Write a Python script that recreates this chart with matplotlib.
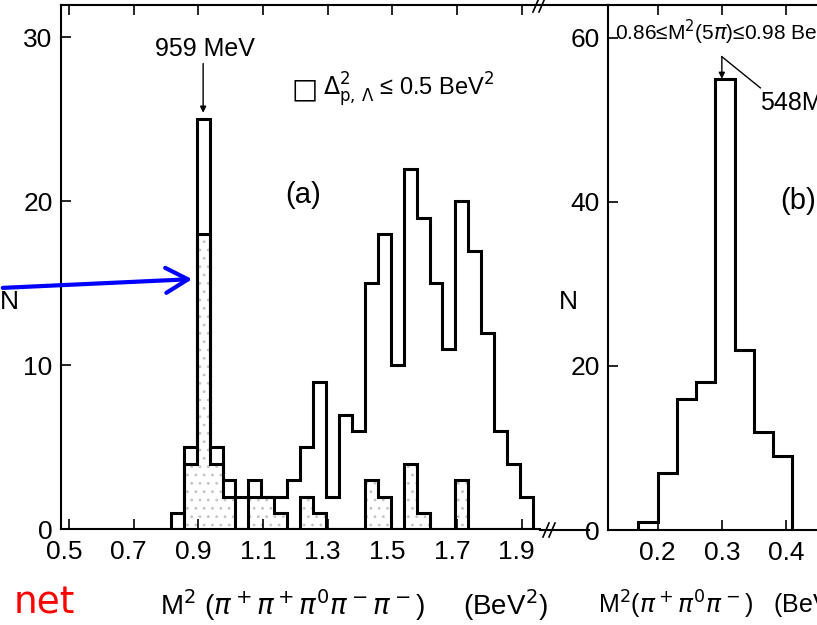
import matplotlib
matplotlib.use('Agg')
import matplotlib.pyplot as plt
import matplotlib.transforms as mtransforms
from matplotlib.lines import Line2D
from matplotlib.patches import FancyArrowPatch

W, H = 817, 625

# panel (a): M^2(pi+ pi+ pi0 pi- pi-), all events and the Delta^2 cut
edges_a = [0.815, 0.855, 0.895, 0.935, 0.975, 1.015, 1.055, 1.095, 1.135, 1.175,
           1.215, 1.255, 1.295, 1.335, 1.375, 1.415, 1.455, 1.495, 1.535, 1.575,
           1.615, 1.655, 1.695, 1.735, 1.775, 1.815, 1.855, 1.895, 1.935]
total_a = [1, 5, 25, 5, 3, 2, 3, 2, 2, 3, 5, 9, 2, 7, 6, 15, 18, 10, 22, 19,
           15, 11, 20, 17, 12, 6, 4, 2]
cut_a = [0, 4, 18, 4, 2, 0, 2, 2, 1, 0, 2, 1, 0, 0, 0, 3, 2, 0, 4, 1,
         0, 0, 3, 0, 0, 0, 0, 0]
xticks_a = [0.5, 0.7, 0.9, 1.1, 1.3, 1.5, 1.7, 1.9]
yticks_a = [0, 10, 20, 30]

# panel (b): M^2(pi+ pi0 pi-) for events in the 959 MeV band
edges_b = [0.17, 0.20, 0.23, 0.26, 0.29, 0.32, 0.35, 0.38, 0.41]
counts_b = [1, 7, 16, 18, 55, 22, 12, 9]
xticks_b = [0.2, 0.3, 0.4]
yticks_b = [0, 20, 40, 60]

plt.rcParams['font.family'] = ['Liberation Sans', 'DejaVu Sans']
plt.rcParams['mathtext.fontset'] = 'dejavusans'
plt.rcParams['hatch.linewidth'] = 0.8


def px(x, y):
    return x / W, 1 - y / H


fig = plt.figure(figsize=(W / 100, H / 100), dpi=100)

# axes in pixel placement
ax_a = fig.add_axes([61 / W, 1 - 529.3 / H, 479 / W, 524.3 / H])
ax_b = fig.add_axes([608 / W, 1 - 530 / H, 392 / W, 525 / H])

for ax in (ax_a, ax_b):
    ax.spines['right'].set_visible(False)
    for s in ('left', 'top', 'bottom'):
        ax.spines[s].set_linewidth(1.5)
    ax.tick_params(direction='in', length=7, width=1.2, top=True,
                   labelsize=19, pad=6)
    ax.tick_params(axis='x', pad=8)

# (a) histograms
ax_a.stairs(cut_a, edges_a, fill=True, facecolor='white', edgecolor='#c4c4c4',
            hatch='..', linewidth=0)
ax_a.stairs(cut_a, edges_a, color='black', linewidth=2.2)
ax_a.stairs(total_a, edges_a, color='black', linewidth=2.2)
ax_a.set_xlim(0.4755, 1.9566)
ax_a.set_ylim(0, 31.97)
ax_a.set_xticks(xticks_a)
ax_a.set_xticklabels([f'{t:.1f}' for t in xticks_a])
ax_a.set_yticks(yticks_a)
# the lettered tick labels sit a little left of their ticks in the scan
shift = mtransforms.ScaledTranslation(-5 / 100, 0, fig.dpi_scale_trans)
for lbl in ax_a.get_xticklabels():
    lbl.set_transform(lbl.get_transform() + shift)

ax_a.annotate('', xy=(0.915, 25.4), xytext=(0.915, 28.4),
              arrowprops=dict(arrowstyle='-|>', color='black', lw=1,
                              mutation_scale=9, shrinkA=0, shrinkB=0))
ax_a.text(0.921, 29.3, '959 MeV', ha='center', va='center', fontsize=18)
ax_a.text(1.1897, 26.8, '\u25a1', ha='left', va='center', fontsize=20,
          family=['DejaVu Sans'])
ax_a.text(1.2866, 26.8, '$\\Delta^{2}_{\\mathrm{p},\\,\\Lambda}$ \u2264 0.5 BeV$^2$',
          ha='left', va='center', fontsize=17)
ax_a.text(1.224, 20.4, '(a)', ha='center', va='center', fontsize=21)

# (b) histogram
ax_b.stairs(counts_b, edges_b, color='black', linewidth=2.2)
ax_b.set_xlim(0.1225, 0.7336)
ax_b.set_ylim(0, 64.0)
ax_b.set_xticks(xticks_b)
ax_b.set_xticklabels([f'{t:.1f}' for t in xticks_b])
ax_b.set_yticks(yticks_b)

ax_b.annotate('', xy=(0.3, 55), xytext=(0.3, 57.7),
              arrowprops=dict(arrowstyle='-|>', color='black', lw=1,
                              mutation_scale=9, shrinkA=0, shrinkB=0))
ax_b.plot([0.3, 0.36], [57.7, 53.9], color='black', lw=1)
ax_b.text(0.359, 52.1, '548MeV', ha='left', va='center', fontsize=18)
ax_b.text(0.1334, 60.6, '0.86\u2264M$^2$(5$\\pi$)\u22640.98 BeV$^2$',
          ha='left', va='center', fontsize=15)
ax_b.text(0.3907, 40.1, '(b)', ha='left', va='center', fontsize=21)

# axis titles written as figure text
fig.text(*px(9, 302), 'N', ha='center', va='center', fontsize=19)
fig.text(*px(568, 302), 'N', ha='center', va='center', fontsize=19)
fig.text(*px(160, 605),
         'M$^2$ ($\\pi^+\\pi^+\\pi^0\\pi^-\\pi^-$)     (BeV$^2$)',
         ha='left', va='center', fontsize=20)
fig.text(*px(598, 605), 'M$^2$($\\pi^+\\pi^0\\pi^-$)   (BeV$^2$)',
         ha='left', va='center', fontsize=18)

# joining lines between the panels and the axis breaks
for (x0, x1, y) in [(540, 608, 5), (540, 589, 530)]:
    fig.add_artist(Line2D([x0 / W, x1 / W], [1 - y / H, 1 - y / H],
                          color='black', lw=1.5))
for (bx, by) in [(539, 5), (549, 530)]:
    for dx in (-3, 3):
        fig.add_artist(Line2D([(bx + dx - 3) / W, (bx + dx + 3) / W],
                              [1 - (by + 7) / H, 1 - (by - 7) / H],
                              color='black', lw=1.2))

# overlay marks on the scan
fig.add_artist(FancyArrowPatch(px(0, 288), px(195, 279),
                               transform=fig.transFigure,
                               arrowstyle='->,head_length=0.8,head_width=0.45',
                               mutation_scale=20, color='#0000ff', lw=3))
fig.text(*px(75, 603), 'net', ha='right', va='center', fontsize=27,
         color='red', family=['DejaVu Sans'])

fig.savefig('out.png', dpi=100)
